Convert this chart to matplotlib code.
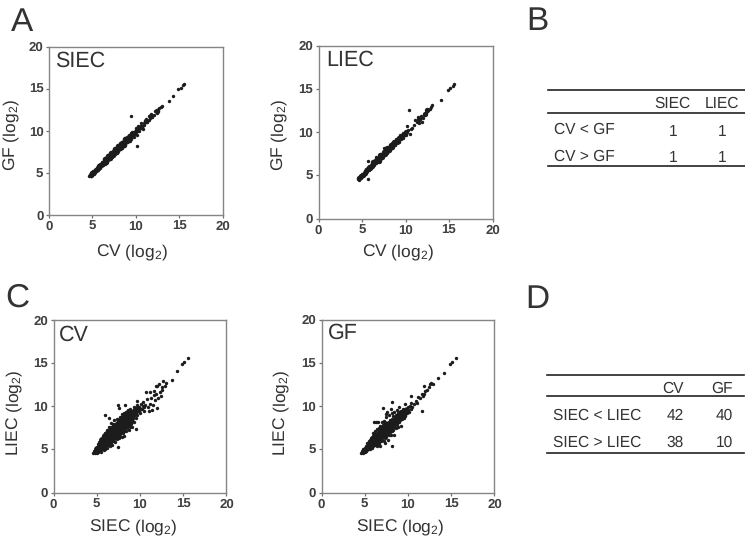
import matplotlib
matplotlib.use("Agg")
import matplotlib.pyplot as plt
from matplotlib.lines import Line2D

plt.rcParams["font.family"] = ["Liberation Sans", "DejaVu Sans"]
plt.rcParams["mathtext.default"] = "regular"
plt.rcParams["text.hinting"] = "no_hinting"

W, H = 745, 539
TEXT = "#333333"

ticks = [0, 5, 10, 15, 20]

# points: (x, y)
siec_pts = [
    (4.6,4.6),(4.7,4.8),(4.8,4.6),(4.9,5.0),(5.0,4.8),(5.1,5.2),(5.2,4.9),(5.3,5.4),(5.3,5.1),(5.4,5.2),
    (5.5,5.6),(5.6,5.3),(5.6,5.7),(5.7,5.5),(5.8,5.9),(5.9,5.6),(5.9,6.1),(6.0,5.8),(6.1,6.3),(6.2,5.9),
    (6.2,6.2),(6.3,6.5),(6.4,6.1),(6.5,6.4),(6.5,6.8),(6.6,6.3),(6.7,6.7),(6.8,7.1),(6.8,6.5),(6.9,6.9),
    (7.0,6.7),(7.0,7.2),(7.1,7.0),(7.2,7.4),(7.3,6.9),(7.3,7.2),(7.4,7.6),(7.5,7.3),(7.5,7.8),(7.6,7.2),
    (7.7,7.6),(7.8,8.0),(7.8,7.4),(7.9,7.8),(8.0,8.2),(8.0,7.7),(8.1,8.0),(8.2,7.8),(8.2,8.5),(8.3,8.2),
    (8.4,8.7),(8.4,8.0),(8.5,8.4),(8.6,8.9),(8.6,8.2),(8.7,8.6),(8.8,9.1),(8.8,8.5),(8.9,8.8),(9.0,9.3),
    (9.0,8.7),(9.1,9.0),(9.2,9.5),(9.3,9.1),(9.3,8.8),(9.4,9.7),(9.5,9.4),(9.5,9.0),(9.6,9.8),(9.7,9.4),
    (9.8,9.9),(9.8,9.2),(9.9,9.6),(10.0,10.3),(10.0,9.8),(10.1,9.5),(10.2,10.2),(10.3,10.6),(10.4,10.0),(10.5,10.4),
    (10.6,10.9),(10.7,10.5),(10.8,10.2),(10.9,10.9),(11.0,10.7),(11.2,11.4),(11.3,11.0),(11.5,11.3),(11.5,11.8),(11.7,11.5),
    (11.8,12.0),(11.9,11.6),(12.1,11.9),(12.2,12.3),(12.4,12.1),(12.5,12.5),(12.7,12.7),(12.9,12.8),(13.0,12.95),
    (9.4,11.75),(10.1,8.2),(13.8,13.5),(14.3,14.1),(14.9,14.9),(15.2,15.1),(15.55,15.55),(15.5,15.4),
]
# solid middle of the band, drawn with a heavier mark
siec_core = [
    (4.8,4.75),(5.0,5.0),(5.2,5.15),(5.4,5.4),(5.6,5.55),(5.8,5.8),(6.0,5.95),(6.2,6.2),(6.4,6.35),(6.6,6.6),
    (6.8,6.75),(7.0,7.0),(7.2,7.15),(7.4,7.4),(7.6,7.55),(7.8,7.8),(8.0,7.95),(8.2,8.2),(8.4,8.35),(8.6,8.6),
    (8.8,8.8),(9.0,9.0),(9.2,9.2),(9.4,9.35),(9.6,9.6),(9.8,9.7),(6.4,6.6),(6.8,7.0),(7.2,7.4),(7.6,7.8),
    (8.0,8.2),(8.4,8.6),(8.8,9.0),(6.6,6.35),(7.0,6.8),(7.4,7.15),(7.8,7.55),(8.2,7.95),(8.6,8.35),(9.0,8.75),
    (10.2,10.1),(10.6,10.5),(11.2,11.1),(11.8,11.75),(12.4,12.3),
]

liec_pts = [
    (4.5,4.55),(4.6,4.7),(4.7,4.5),(4.8,4.9),(4.9,4.7),(5.0,5.2),(5.1,4.9),(5.2,5.3),(5.2,5.0),(5.3,5.5),
    (5.4,5.2),(5.5,5.7),(5.5,5.3),(5.6,5.5),(5.7,5.9),(5.8,5.6),(5.8,6.1),(5.9,5.8),(6.0,6.2),(6.1,5.9),
    (6.1,6.4),(6.2,6.1),(6.3,6.6),(6.4,6.2),(6.4,6.5),(6.5,6.8),(6.6,6.4),(6.6,7.1),(6.7,6.7),(6.8,6.9),
    (6.9,6.6),(7.0,7.1),(7.1,6.9),(7.2,7.4),(7.2,7.0),(7.3,7.2),(7.4,7.6),(7.5,7.3),(7.5,8.1),(7.6,7.7),
    (7.7,7.4),(7.8,7.9),(7.9,7.6),(8.0,8.2),(8.0,7.8),(8.1,8.0),(8.2,8.5),(8.3,8.1),(8.4,8.3),(8.4,8.7),
    (8.5,8.1),(8.6,8.5),(8.7,8.9),(8.8,8.5),(8.8,8.7),(8.9,9.2),(9.0,8.8),(9.1,9.0),(9.2,9.4),(9.2,8.9),
    (9.3,9.2),(9.4,9.6),(9.5,9.2),(9.6,9.5),(9.7,9.9),(9.7,9.3),(9.8,9.6),(10.0,10.0),(10.0,9.6),(10.2,10.7),
    (10.3,10.2),(10.5,9.8),(10.6,10.4),(10.8,10.5),(11.0,10.8),(11.1,11.4),(11.3,11.2),(11.4,11.7),(11.5,11.0),(11.7,11.6),
    (11.8,11.9),(11.9,11.2),(12.0,11.6),(12.1,12.0),(12.3,12.2),(12.5,12.4),(12.6,12.6),(12.8,12.7),(13.0,13.1),(12.9,12.85),
    (5.7,6.6),(5.7,4.6),(10.4,12.6),(14.1,13.7),(14.9,14.9),(15.1,15.05),(15.55,15.5),(15.5,15.3),
]
liec_core = [
    (4.7,4.7),(4.9,4.9),(5.1,5.05),(5.3,5.3),(5.5,5.45),(5.7,5.7),(5.9,5.85),(6.1,6.1),(6.3,6.25),(6.5,6.5),
    (6.7,6.65),(6.9,6.9),(7.1,7.05),(7.3,7.3),(7.5,7.45),(7.7,7.7),(7.9,7.85),(8.1,8.1),(8.3,8.25),(8.5,8.5),
    (8.7,8.65),(8.9,8.9),(9.1,9.05),(9.3,9.3),(9.5,9.4),(9.7,9.6),(6.3,6.5),(6.7,6.9),(7.1,7.3),(7.5,7.7),
    (7.9,8.1),(8.3,8.5),(8.7,8.9),(6.9,6.7),(7.3,7.1),(7.7,7.5),(8.1,7.9),(8.5,8.3),(9.0,8.8),
    (10.1,10.0),(11.6,11.5),(12.2,12.1),(12.5,12.5),
]

cv_pts = [
    (4.6,4.6),(4.7,4.8),(4.8,4.6),(4.9,5.1),(4.9,4.8),(5.0,4.6),(5.0,5.3),(5.1,5.0),(5.1,4.7),(5.2,5.6),
    (5.2,5.2),(5.3,4.8),(5.3,5.8),(5.3,5.4),(5.4,5.0),(5.4,5.7),(5.5,4.7),(5.5,6.2),(5.5,5.3),(5.6,5.9),
    (5.6,5.5),(5.6,5.0),(5.7,6.6),(5.7,5.7),(5.7,5.2),(5.8,6.2),(5.8,4.9),(5.8,5.9),(5.9,5.4),(5.9,6.5),
    (5.9,9.0),(6.0,5.1),(6.0,5.7),(6.0,6.3),(6.0,6.9),(6.1,5.4),(6.1,6.0),(6.1,6.6),(6.2,7.2),(6.2,5.2),
    (6.2,5.8),(6.3,6.3),(6.3,6.8),(6.3,5.5),(6.4,7.6),(6.4,6.0),(6.4,6.6),(6.4,8.6),(6.5,5.4),(6.5,7.0),
    (6.5,6.3),(6.5,5.8),(6.6,7.4),(6.6,6.7),(6.6,6.1),(6.6,8.1),(6.7,5.7),(6.7,6.4),(6.7,7.0),(6.7,7.6),
    (6.8,6.0),(6.8,6.7),(6.8,7.3),(6.8,5.5),(6.9,8.0),(6.9,6.3),(6.9,7.0),(6.9,7.7),(7.0,6.0),(7.0,6.6),
    (7.0,7.2),(7.0,8.4),(7.1,5.8),(7.1,6.9),(7.1,7.5),(7.1,6.3),(7.2,8.0),(7.2,6.6),(7.2,7.2),(7.2,7.8),
    (7.3,6.2),(7.3,6.9),(7.3,7.5),(7.3,8.5),(7.4,6.5),(7.4,7.1),(7.4,7.8),(7.4,5.3),(7.5,10.2),(7.5,6.8),
    (7.5,7.4),(7.5,8.1),(7.6,9.8),(7.6,6.3),(7.6,7.0),(7.6,7.7),(7.6,8.4),(7.7,6.6),(7.7,7.3),(7.7,8.0),
    (7.7,8.8),(7.8,6.9),(7.8,7.6),(7.8,8.3),(7.9,6.4),(7.9,7.2),(7.9,7.9),(7.9,9.1),(8.0,6.9),(8.0,7.5),
    (8.0,8.2),(8.0,8.7),(8.1,7.1),(8.1,7.8),(8.1,8.5),(8.1,9.2),(8.2,6.6),(8.2,7.4),(8.2,8.1),(8.2,8.9),
    (8.3,7.7),(8.3,8.4),(8.3,10.2),(8.4,7.1),(8.4,8.0),(8.4,8.7),(8.4,9.3),(8.5,7.5),(8.5,8.3),(8.5,9.0),
    (8.6,7.8),(8.6,8.6),(8.6,9.6),(8.7,7.3),(8.7,8.1),(8.7,8.9),(8.8,7.6),(8.8,8.4),(8.8,9.3),(8.9,8.7),
    (8.9,9.7),(9.0,8.0),(9.0,9.0),(9.1,7.6),(9.1,8.5),(9.1,9.4),(9.2,8.9),(9.3,8.2),(9.3,9.9),(9.4,9.2),
    (9.5,8.6),(9.5,7.4),(9.5,9.7),(9.6,10.1),(9.7,9.0),(9.7,10.6),(9.8,9.5),(9.9,9.9),(10.0,9.2),(10.1,10.3),
    (10.2,9.7),(10.3,10.0),(10.4,10.5),(10.5,9.5),(10.5,9.9),(10.6,10.2),(10.7,11.6),(10.8,10.8),(10.9,9.9),(11.0,9.5),
    (11.1,10.3),(11.2,11.7),(11.3,11.0),(11.4,9.6),(11.5,10.1),(11.6,11.3),(11.6,11.8),(11.7,10.7),(11.8,12.3),(11.9,11.4),
    (12.0,12.4),(12.0,9.75),(12.1,11.0),(12.2,12.6),(12.3,11.7),(12.4,11.2),(12.5,12.2),(12.6,11.9),(12.7,12.9),(12.9,12.3),
    (13.0,12.7),(13.7,13.0),(14.3,14.1),(14.9,14.9),(15.1,15.1),(15.55,15.55),
]
cv_core = [
    (5.0,5.0),(5.3,5.2),(5.6,5.6),(5.9,5.8),(6.2,6.2),(6.5,6.4),(6.8,6.8),(7.1,7.0),(7.4,7.4),(7.7,7.6),
    (8.0,8.0),(8.3,8.2),(8.6,8.6),(8.9,8.8),(9.2,9.1),(5.6,6.1),(5.9,6.5),(6.2,6.8),(6.5,7.1),(6.8,7.4),
    (7.1,7.7),(7.4,8.0),(7.7,8.3),(8.0,8.6),(8.3,8.9),(8.6,9.2),(5.8,5.3),(6.1,5.6),(6.4,5.9),(6.7,6.2),
    (7.0,6.5),(7.3,6.8),(7.6,7.1),(7.9,7.4),(8.2,7.7),(8.5,8.0),(8.8,8.3),(9.0,8.6),(9.4,9.5),(9.8,9.7),
]

gf_pts = [
    (4.6,4.6),(4.7,4.8),(4.8,4.6),(4.8,5.0),(4.9,4.8),(5.0,5.2),(5.0,4.7),(5.1,5.0),(5.2,5.4),(5.2,4.8),
    (5.3,5.2),(5.3,5.7),(5.4,5.0),(5.4,5.5),(5.5,6.0),(5.5,5.2),(5.6,5.7),(5.6,5.0),(5.7,6.3),(5.7,5.4),
    (5.8,5.9),(5.8,5.2),(5.9,6.5),(5.9,5.6),(6.0,6.1),(6.0,5.4),(6.0,6.9),(6.1,8.2),(6.1,5.8),(6.1,6.4),
    (6.2,5.5),(6.2,7.1),(6.2,6.0),(6.3,8.1),(6.3,6.6),(6.3,5.7),(6.4,6.2),(6.4,7.3),(6.4,5.4),(6.5,5.9),
    (6.5,6.8),(6.5,8.2),(6.6,6.4),(6.6,7.1),(6.6,5.6),(6.7,6.0),(6.7,7.4),(6.7,6.7),(6.8,6.2),(6.8,7.0),
    (6.8,7.7),(6.8,5.4),(6.9,6.5),(6.9,7.3),(6.9,5.9),(7.0,6.8),(7.0,7.6),(7.0,6.1),(7.0,8.1),(7.1,6.4),
    (7.1,7.1),(7.1,7.8),(7.1,9.75),(7.2,6.0),(7.2,6.7),(7.2,7.4),(7.2,8.3),(7.3,6.3),(7.3,7.0),(7.3,7.7),
    (7.3,5.7),(7.4,6.7),(7.4,7.3),(7.4,8.0),(7.4,9.1),(7.5,6.4),(7.5,7.1),(7.5,7.7),(7.5,8.7),(7.6,6.8),
    (7.6,7.4),(7.6,8.0),(7.6,9.3),(7.7,6.1),(7.7,7.1),(7.7,7.7),(7.8,6.6),(7.8,7.4),(7.8,8.1),(7.8,9.0),
    (7.9,7.0),(7.9,7.7),(7.9,8.4),(8.0,6.7),(8.0,7.4),(8.0,8.0),(8.0,9.7),(8.1,7.1),(8.1,7.8),(8.1,8.5),
    (8.1,9.2),(8.2,5.4),(8.2,7.5),(8.2,8.1),(8.2,10.5),(8.3,7.2),(8.3,7.9),(8.3,8.8),(8.4,6.7),(8.4,7.6),
    (8.4,8.3),(8.4,9.3),(8.5,7.9),(8.5,8.6),(8.6,7.4),(8.6,8.2),(8.6,9.0),(8.7,7.8),(8.7,8.5),(8.7,9.5),
    (8.8,8.1),(8.8,8.8),(8.9,7.6),(8.9,8.4),(8.9,9.2),(9.0,8.2),(9.0,8.7),(9.0,9.9),(9.1,8.4),(9.1,9.0),
    (9.2,7.7),(9.2,8.7),(9.2,9.4),(9.3,8.5),(9.3,9.0),(9.4,8.8),(9.4,9.6),(9.5,8.6),(9.5,9.2),(9.6,9.0),
    (9.6,10.2),(9.7,9.4),(9.7,8.8),(9.8,9.7),(9.9,9.2),(10.0,9.5),(10.0,9.9),(10.1,9.3),(10.2,10.0),(10.3,11.1),
    (10.3,9.6),(10.4,10.3),(10.5,9.9),(10.7,10.2),(10.9,10.6),(11.0,10.3),(11.2,11.0),(11.4,10.9),(11.6,11.4),(11.6,9.4),
    (11.7,11.1),(11.8,12.3),(11.9,11.4),(12.0,11.7),(12.2,11.9),(12.4,12.2),(12.5,12.5),(12.7,12.7),(12.9,12.6),(13.5,13.2),
    (14.2,13.8),(14.9,14.9),(15.1,15.1),(15.5,15.55),
]
gf_core = [
    (5.0,4.95),(5.3,5.2),(5.6,5.5),(5.9,5.8),(6.2,6.1),(6.5,6.4),(6.8,6.7),(7.1,7.0),(7.4,7.3),(7.7,7.6),
    (8.0,7.9),(8.3,8.2),(8.6,8.5),(8.9,8.8),(9.2,9.0),(9.5,9.3),(9.8,9.5),(5.7,5.9),(6.0,6.3),(6.3,6.6),
    (6.6,6.9),(6.9,7.2),(7.2,7.6),(7.5,7.9),(6.2,5.7),(6.5,6.0),(6.8,6.3),(7.1,6.6),(7.4,6.9),(7.7,7.2),
    (8.0,7.5),(8.3,7.9),(8.6,8.2),(8.9,8.5),(9.1,9.2),
]

table_b_cols = ["SIEC", "LIEC"]
table_b_rows = ["CV < GF", "CV > GF"]
table_b_vals = [[1, 1], [1, 1]]

table_d_cols = ["CV", "GF"]
table_d_rows = ["SIEC < LIEC", "SIEC > LIEC"]
table_d_vals = [[42, 40], [38, 10]]


def fx(x):
    return x / W


def fy(y):
    return 1 - y / H


def put(fig, x, y, s, **kw):
    kw.setdefault("color", TEXT)
    kw.setdefault("va", "baseline")
    fig.text(fx(x), fy(y), s, **kw)


def scatter_panel(fig, box, pts, core, core_size, name, name_xy, xlabel, xlabel_xy, ylabel, ylabel_xy):
    left, right, top, bottom = box
    ax = fig.add_axes([fx(left), fy(bottom), (right - left) / W, (bottom - top) / H])
    ax.scatter([p[0] for p in pts], [p[1] for p in pts], s=6, color="#1c1c1c", linewidths=0, zorder=3)
    ax.scatter([p[0] for p in core], [p[1] for p in core], s=core_size, color="#1c1c1c", linewidths=0, zorder=3)
    ax.set_xlim(0, 20)
    ax.set_ylim(0, 20)
    ax.set_xticks(ticks)
    ax.set_yticks(ticks)
    ax.tick_params(length=2.5, width=0.9, color="#707070", pad=1.5, labelsize=9.5, labelcolor="#404040")
    for lab in ax.get_xticklabels() + ax.get_yticklabels():
        lab.set_fontweight("bold")
    for sp in ax.spines.values():
        sp.set_color("#858585")
        sp.set_linewidth(1.0)
    put(fig, name_xy[0], name_xy[1], name, fontsize=15.5)
    put(fig, xlabel_xy[0], xlabel_xy[1], xlabel, fontsize=12.5, ha="center")
    put(fig, ylabel_xy[0], ylabel_xy[1], ylabel, fontsize=12.5, rotation=90, ha="center", va="center")


def hline(fig, x0, x1, y):
    fig.add_artist(Line2D([fx(x0), fx(x1)], [fy(y), fy(y)], color="#222222", lw=1.2))


def table_panel(fig, cols, rows, vals, col_x, val_x, lines, x_span, head_y, row_x, row_y, val_y):
    for y in lines:
        hline(fig, x_span[0], x_span[1], y)
    for c, x in zip(cols, col_x):
        put(fig, x, head_y, c, fontsize=11.2, ha="center")
    for i, r in enumerate(rows):
        put(fig, row_x, row_y[i], r, fontsize=11.2)
        for v, x in zip(vals[i], val_x):
            put(fig, x, val_y[i], str(v), fontsize=11.2, ha="center")


def main():
    fig = plt.figure(figsize=(W / 100, H / 100), dpi=100)

    scatter_panel(fig, (49, 222.5, 46.5, 215), siec_pts, siec_core, 16, "SIEC", (55.5, 66.5),
                  "CV (log$_2$)", (132, 256), "GF (log$_2$)", (11, 135))
    scatter_panel(fig, (318.5, 492.5, 45.5, 218.5), liec_pts, liec_core, 15, "LIEC", (326.5, 65.5),
                  "CV (log$_2$)", (398, 256), "GF (log$_2$)", (279, 135))
    scatter_panel(fig, (53.5, 226.5, 320, 492.5), cv_pts, cv_core, 26, "CV", (59, 341),
                  "SIEC (log$_2$)", (133, 531), "LIEC (log$_2$)", (14, 413))
    scatter_panel(fig, (321.5, 494.5, 319.5, 492.5), gf_pts, gf_core, 20, "GF", (328, 339),
                  "SIEC (log$_2$)", (400, 531), "LIEC (log$_2$)", (281, 413))

    for letter, x, y in [("A", 11, 31), ("B", 526, 30), ("C", 5, 307), ("D", 525, 308)]:
        put(fig, x, y, letter, fontsize=24)

    table_panel(fig, table_b_cols, table_b_rows, table_b_vals, (672, 722), (673, 722),
                (90, 113, 166), (548, 745), 108, 554, (134, 160.5), (136, 162.5))
    table_panel(fig, table_d_cols, table_d_rows, table_d_vals, (673, 722), (675, 724),
                (375, 396, 453), (547, 744), 393, 553, (420, 446.5), (420, 446.5))

    fig.savefig("out.png", dpi=100)
    plt.close(fig)


if __name__ == "__main__":
    main()
